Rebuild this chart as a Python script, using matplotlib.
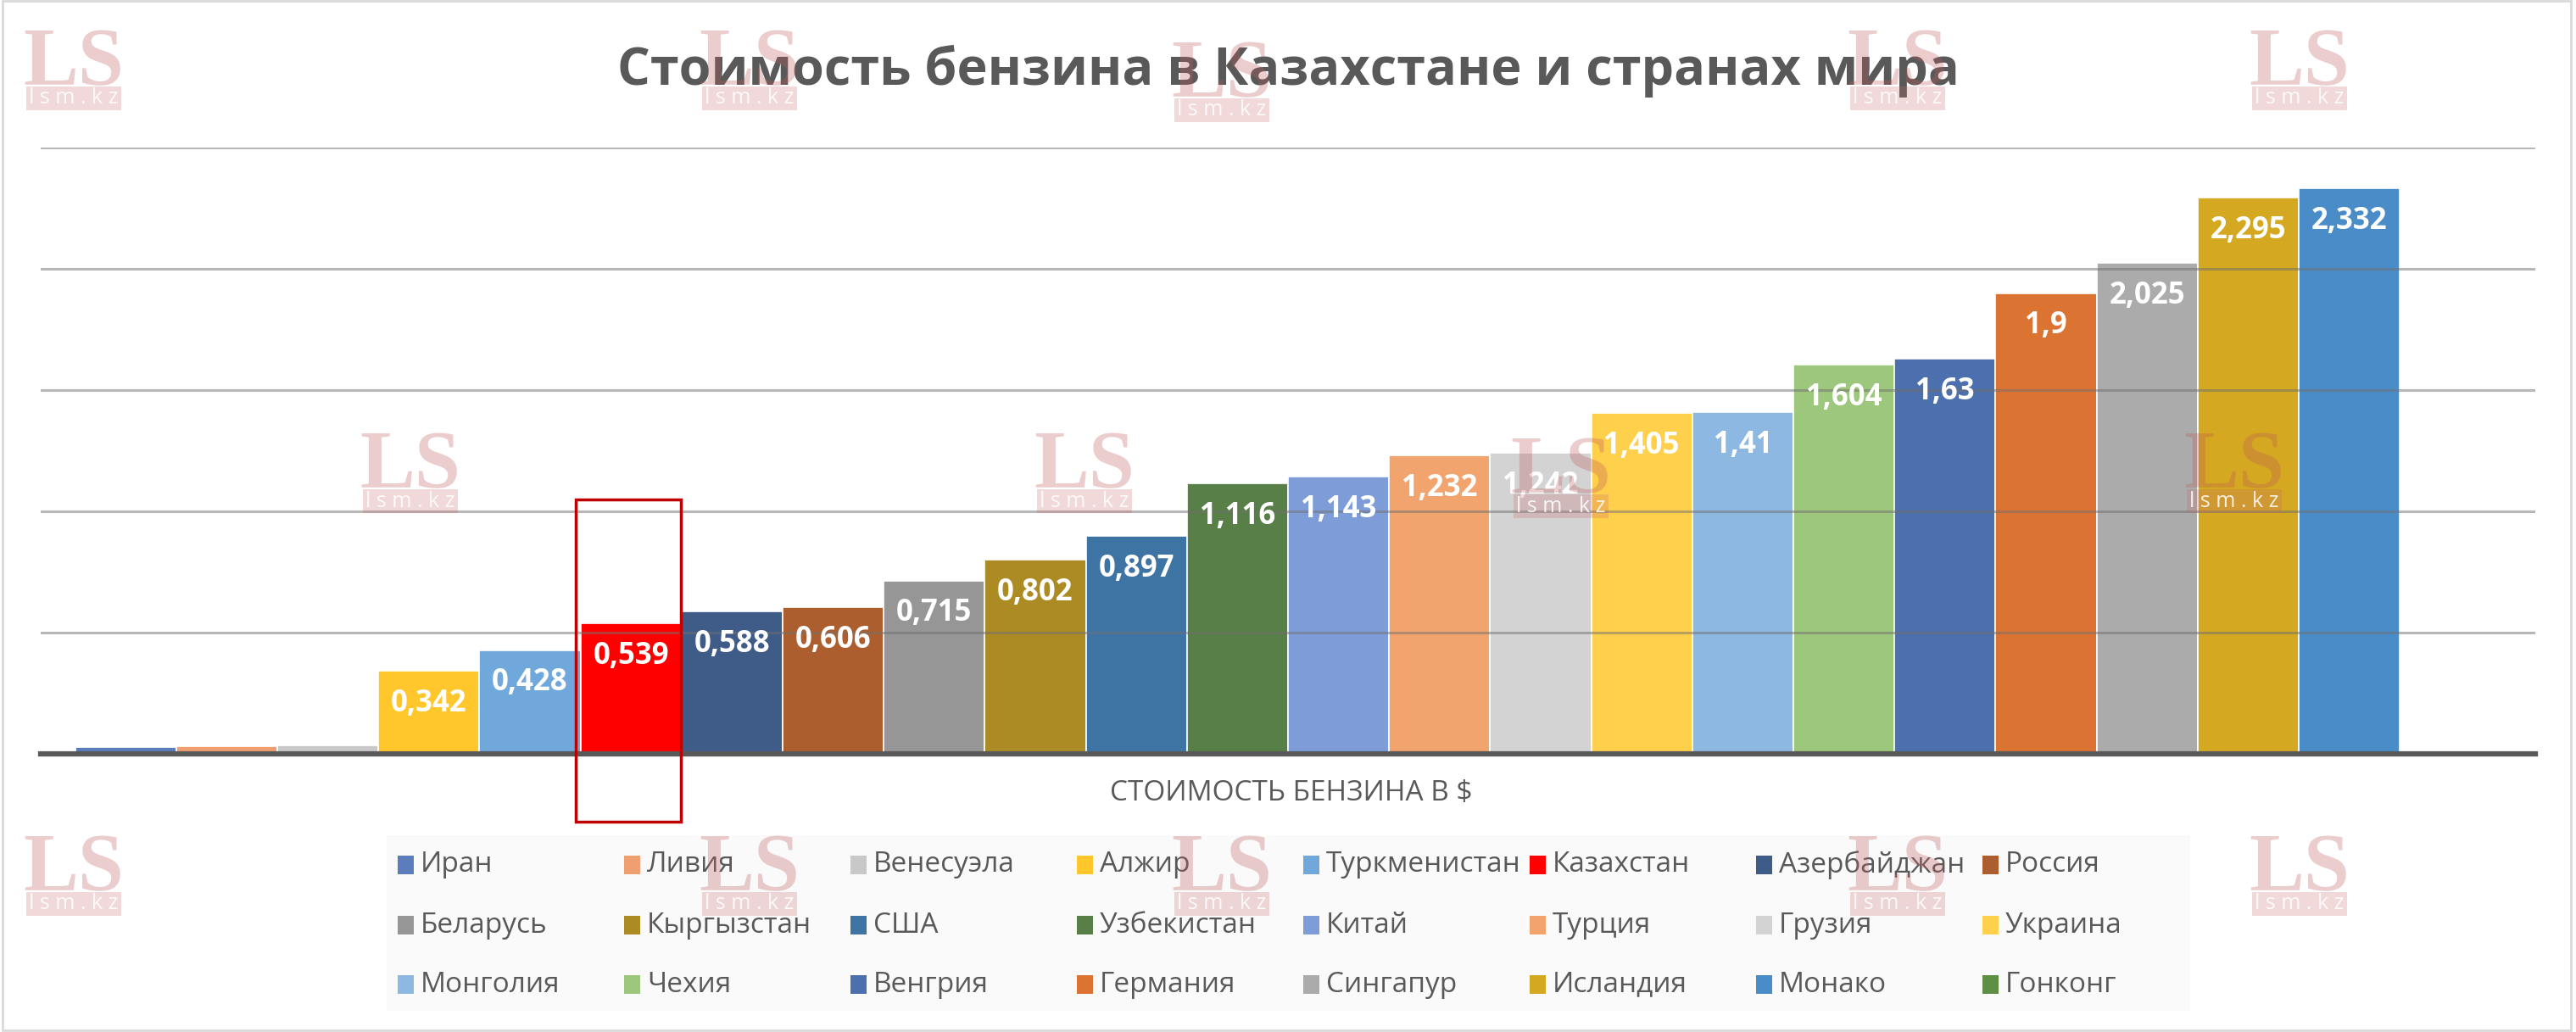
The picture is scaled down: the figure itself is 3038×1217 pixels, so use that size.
import matplotlib
matplotlib.use('Agg')
import matplotlib.pyplot as plt
from matplotlib.patches import Rectangle

plt.rcParams['font.family'] = ['Open Sans', 'DejaVu Sans']

# данные
countries = ['Иран', 'Ливия', 'Венесуэла', 'Алжир', 'Туркменистан', 'Казахстан',
             'Азербайджан', 'Россия', 'Беларусь', 'Кыргызстан', 'США', 'Узбекистан',
             'Китай', 'Турция', 'Грузия', 'Украина', 'Монголия', 'Чехия',
             'Венгрия', 'Германия', 'Сингапур', 'Исландия', 'Монако', 'Гонконг']
prices = [0.027, 0.031, 0.035, 0.342, 0.428, 0.539,
          0.588, 0.606, 0.715, 0.802, 0.897, 1.116,
          1.143, 1.232, 1.242, 1.405, 1.41, 1.604,
          1.63, 1.9, 2.025, 2.295, 2.332, 0.0]
colors = ['#5B7DBB', '#F0A070', '#C8C8C8', '#FFC72C', '#70A8DC', '#FF0000',
          '#3F5B88', '#AD5E2E', '#969696', '#AC8A24', '#3E74A4', '#587F47',
          '#7E9DD8', '#F2A46E', '#D3D3D3', '#FFD04B', '#8DB8E2', '#9DC77C',
          '#4C6FAD', '#DB7433', '#ABABAB', '#D4A820', '#4A8CC8', '#5F8F45']
highlight = 'Казахстан'

W, H = 3038, 1217
fig = plt.figure(figsize=(W / 100, H / 100), dpi=100)


def fx(px):
    return px / W


def fy(py):
    return 1 - py / H


ax = fig.add_axes([fx(48), fy(889), fx(2990 - 48), (889 - 174) / H])

x = list(range(len(countries)))
ax.bar(x, prices, width=1.0, color=colors, edgecolor='white', linewidth=1.2, zorder=1)

ax.set_xlim(-0.84, len(countries) - 1 + 0.84)
ax.set_ylim(0, 2.5)
ax.set_yticks([0.5, 1.0, 1.5, 2.0, 2.5])
ax.set_xticks([])
ax.tick_params(axis='y', length=0, labelleft=False)
ax.set_axisbelow(False)
ax.grid(axis='y', color='#707070', alpha=0.5, linewidth=2.2)
for s in ['left', 'right', 'top']:
    ax.spines[s].set_visible(False)
ax.spines['bottom'].set_color('#595959')
ax.spines['bottom'].set_linewidth(4.5)
ax.spines['bottom'].set_zorder(3)

# подписи значений
for i, v in enumerate(prices):
    if v < 0.1:
        continue
    ax.annotate(f'{v:g}'.replace('.', ','), (i, v), xytext=(0, -28),
                textcoords='offset points', ha='center', va='center',
                color='white', fontweight='bold', fontsize=25, zorder=4)

# рамка вокруг Казахстана
k = countries.index(highlight)
ax.add_patch(Rectangle((k - 0.55, -0.28), 1.04, prices[k] + 0.79, fill=False,
                       edgecolor='#C00000', linewidth=2.5, clip_on=False, zorder=5))

# заголовки
fig.text(fx(1519), fy(84), 'Стоимость бензина в Казахстане и странах мира',
         ha='center', va='center', fontsize=44, fontweight='bold', color='#595959')
fig.text(fx(1523), fy(936), 'СТОИМОСТЬ БЕНЗИНА В $', ha='center', va='center',
         fontsize=24, color='#595959')

# легенда (равные колонки, как в Excel)
fig.patches.append(Rectangle((fx(456), fy(1192)), fx(2583 - 456), (1192 - 985) / H,
                             transform=fig.transFigure, facecolor='#FAFAFA',
                             edgecolor='none', zorder=0))
rows_y = [1020, 1091, 1161]
for i, (name, c) in enumerate(zip(countries, colors)):
    r, col = divmod(i, 8)
    x0 = 469 + col * 267
    fig.patches.append(Rectangle((fx(x0), fy(rows_y[r] + 11)), fx(19), 22 / H,
                                 transform=fig.transFigure, facecolor=c,
                                 edgecolor='none', zorder=1))
    fig.text(fx(x0 + 27), fy(rows_y[r]), name, ha='left', va='center',
             fontsize=24, color='#595959')

# водяные знаки (центр плашки lsm.kz)
marks = [(87, 116), (884, 116), (1441, 130), (2238, 116), (2712, 116),
         (484, 591), (1279, 591), (1841, 597), (2635, 591),
         (87, 1066), (884, 1066), (1441, 1066), (2238, 1066), (2712, 1066)]
for bx, by in marks:
    fig.text(fx(bx), fy(by - 16), 'LS', ha='center', va='baseline', fontsize=70,
             family='Liberation Serif', fontweight='bold', color='#C05A5A',
             alpha=0.3, zorder=6)
    fig.patches.append(Rectangle((fx(bx - 56), fy(by + 14)), fx(112), 28 / H,
                                 transform=fig.transFigure, facecolor='#C86A6A',
                                 alpha=0.25, edgecolor='none', zorder=6))
    fig.text(fx(bx), fy(by), 'l s m . k z', ha='center', va='center', fontsize=18,
             color='white', alpha=0.85, zorder=7)

# рамка рисунка
fig.patches.append(Rectangle((0.001, 0.002), 0.997, 0.997, transform=fig.transFigure,
                             fill=False, edgecolor='#D9D9D9', linewidth=2, zorder=8))

fig.savefig('out.png', dpi=100)
